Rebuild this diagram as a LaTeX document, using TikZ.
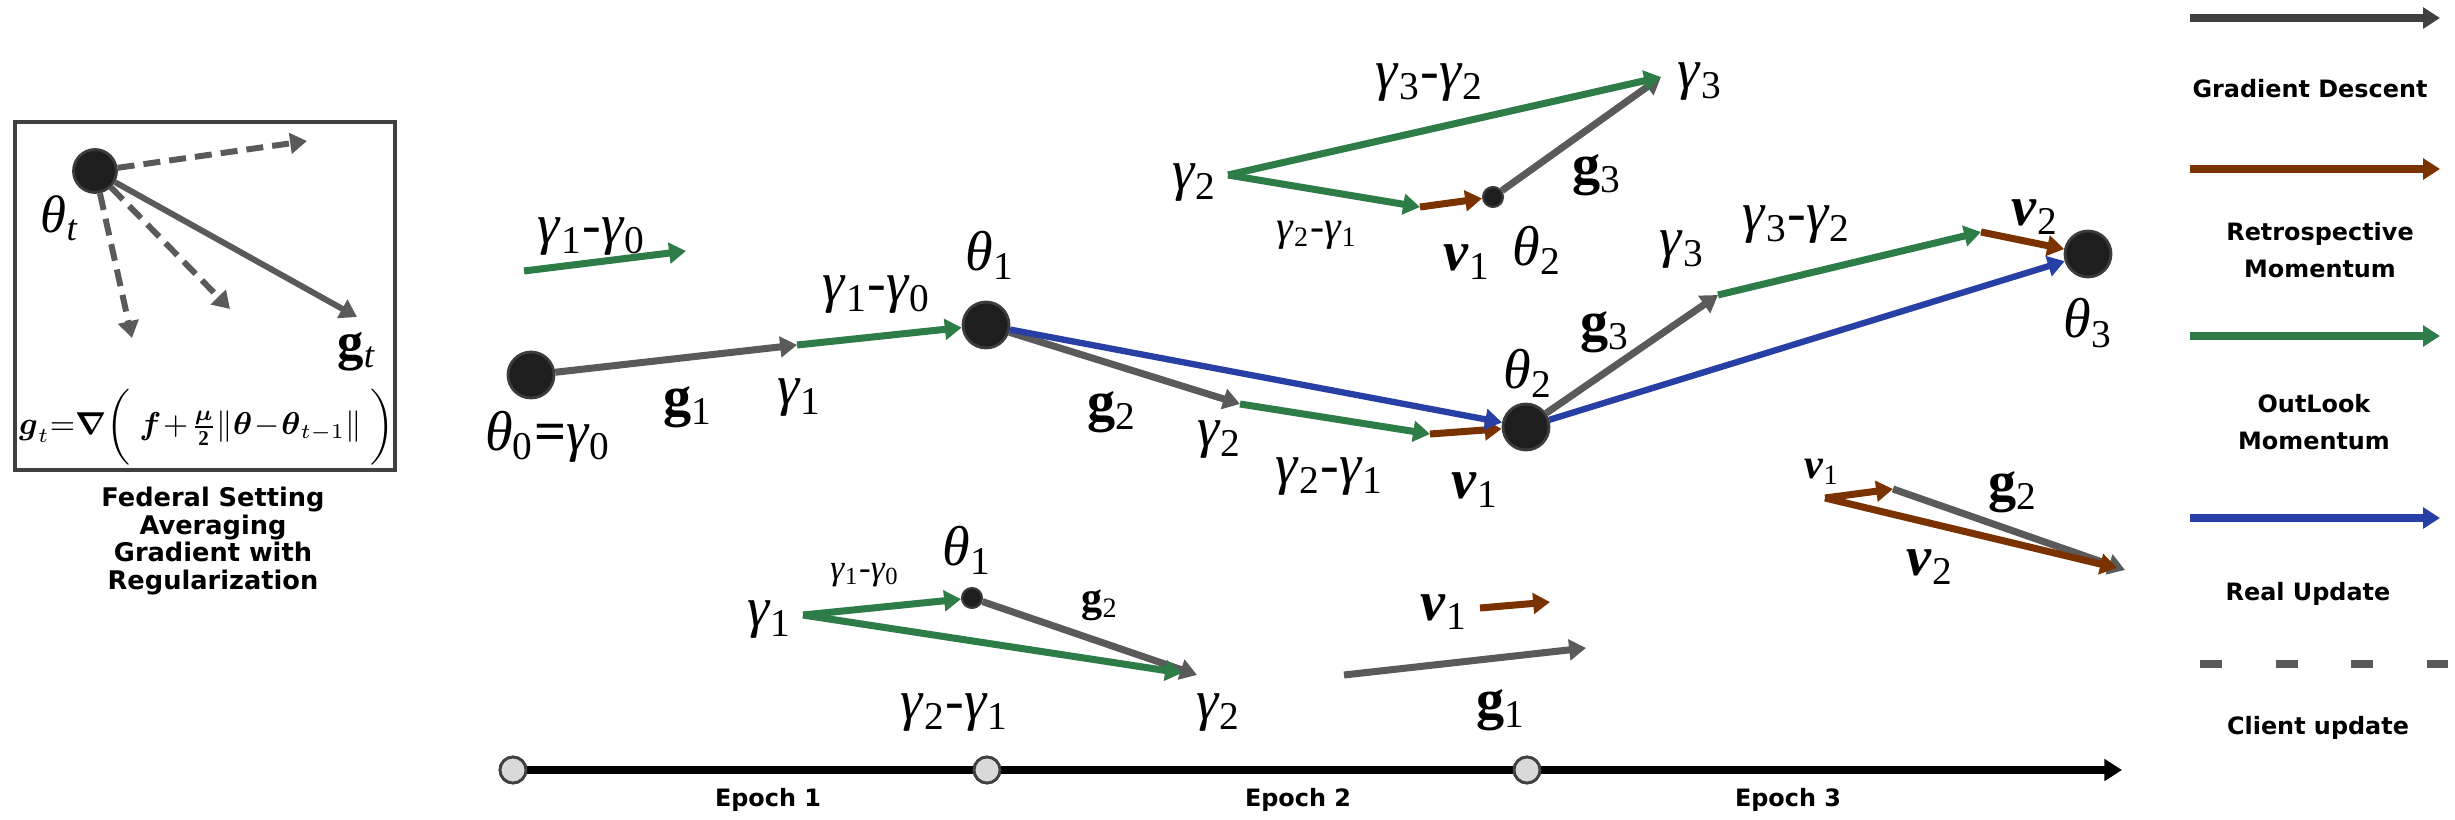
\documentclass[tikz,border=0pt]{standalone}
\usepackage{amsmath}
\usepackage{fontspec}
\setmainfont{Liberation Serif}
\newfontfamily\capfont{DejaVu Sans}
\usetikzlibrary{arrows.meta}

\definecolor{gdgray}{RGB}{90,90,90}
\definecolor{legray}{RGB}{64,64,64}
\definecolor{rmbrown}{RGB}{122,51,0}
\definecolor{omgreen}{RGB}{46,125,72}
\definecolor{rublue}{RGB}{40,64,165}
\definecolor{dotfill}{RGB}{30,30,30}
\definecolor{dotline}{RGB}{60,60,60}
\definecolor{tickfill}{RGB}{217,217,217}

\newcommand{\gam}[1]{\textit{γ}\textsubscript{#1}}
\newcommand{\tht}[1]{\textit{θ}\textsubscript{#1}}
\newcommand{\grd}[1]{\textbf{g}\textsubscript{#1}}
\newcommand{\vel}[1]{\textbf{\textit{v}}\textsubscript{#1}}
\newcommand{\gtrule}{$\boldsymbol{g}_{t}\mathbf{=}\boldsymbol{\nabla}\bigg(\;\boldsymbol{f}\!+\!\frac{\boldsymbol{\mu}}{\mathbf{2}}\Vert\boldsymbol{\theta}\!-\!\boldsymbol{\theta}_{t-1}\Vert\;\bigg)$}

\tikzset{
  vtip/.style={-{Triangle[length=4.8pt,width=5.8pt]}},
  gdarrow/.style={draw=gdgray, line width=2pt, vtip},
  rmarrow/.style={draw=rmbrown, line width=2pt, vtip},
  omarrow/.style={draw=omgreen, line width=2pt, vtip},
  ruarrow/.style={draw=rublue, line width=1.8pt, vtip},
  cuarrow/.style={draw=gdgray, line width=1.7pt, dash pattern=on 1.7mm off 0.9mm, vtip},
  bigdot/.style={circle, fill=dotfill, draw=dotline, line width=0.8pt, minimum size=4.6mm, inner sep=0pt},
  smalldot/.style={circle, fill=dotfill, draw=dotline, line width=0.6pt, minimum size=2mm, inner sep=0pt},
  tickdot/.style={circle, fill=tickfill, draw=legray, line width=0.8pt, minimum size=2.6mm, inner sep=0pt},
  lbl/.style={font=\fontsize{16}{16}\selectfont, inner sep=0pt},
  slbl/.style={font=\fontsize{12}{12}\selectfont, inner sep=0pt},
  legtxt/.style={font=\capfont\bfseries\fontsize{6.8}{10.5}\selectfont, align=center, inner sep=0pt},
  captxt/.style={font=\capfont\bfseries\fontsize{7.3}{7.9}\selectfont, align=center, inner sep=0pt}
}

\begin{document}
\begin{tikzpicture}[x=0.1mm, y=-0.1mm]
\useasboundingbox (0,0) rectangle (2455,819);

% federal setting box
\draw[line width=1.4pt, draw=legray] (15,122) rectangle (395,470);
\node[bigdot, minimum size=4.3mm] (tht) at (95,171) {};
\coordinate (cl1) at (307,141);
\coordinate (cl2) at (132,338);
\coordinate (cl3) at (230,309);
\coordinate (gt) at (357,317);
\draw[cuarrow] (tht) -- (cl1);
\draw[cuarrow] (tht) -- (cl2);
\draw[cuarrow] (tht) -- (cl3);
\draw[gdarrow, line width=1.7pt] (tht) -- (gt);
\node[lbl, font=\fontsize{15}{15}\selectfont] (ltht) at (60,218) {\textit{θ}\textsubscript{\textit{t}}};
\node[lbl, font=\fontsize{15}{15}\selectfont] (lgt) at (357,352) {\textbf{g}\textsubscript{\textit{t}}};
\node[lbl, font=\fontsize{9}{9}\selectfont] (rule) at (207,427) {\gtrule};
\node[captxt] (cap) at (213,541) {Federal Setting\\Averaging\\Gradient with\\Regularization};

% main path
\node[bigdot] (t0) at (531,375) {};
\node[bigdot] (t1) at (986,325) {};
\node[bigdot] (t2) at (1526,427) {};
\node[bigdot] (t3) at (2088,254) {};
\coordinate (g1) at (797,345);
\coordinate (g2) at (1240,404);
\coordinate (m2) at (1430,434);
\coordinate (g3) at (1718,295);
\coordinate (m3) at (1981,232);
\draw[gdarrow] (t0) -- (g1);
\draw[omarrow] (g1) -- (t1);
\draw[gdarrow] (t1) -- (g2);
\draw[omarrow] (g2) -- (m2);
\draw[rmarrow] (m2) -- (t2);
\draw[ruarrow] (t1) -- (t2);
\draw[gdarrow] (t2) -- (g3);
\draw[omarrow] (g3) -- (m3);
\draw[rmarrow] (m3) -- (t3);
\draw[ruarrow] (t2) -- (t3);
\node[lbl] (lt0) at (548,437) {\tht{0}\textbf{=}\gam{0}};
\node[lbl] (lg1) at (688,407) {\grd{1}};
\node[lbl] (lc1) at (800,398) {\gam{1}};
\node[lbl] (lm1) at (877,295) {\gam{1}-\gam{0}};
\node[lbl] (lt1) at (990,255) {\tht{1}};
\node[lbl] (lg2) at (1112,412) {\grd{2}};
\node[lbl] (lc2) at (1220,440) {\gam{2}};
\node[lbl] (lm2) at (1330,477) {\gam{2}-\gam{1}};
\node[lbl] (lv1) at (1475,490) {\vel{1}};
\node[lbl] (lt2) at (1528,373) {\tht{2}};
\node[lbl] (lg3) at (1605,332) {\grd{3}};
\node[lbl] (lc3) at (1682,250) {\gam{3}};
\node[lbl] (lm3) at (1797,225) {\gam{3}-\gam{2}};
\node[lbl] (lv2) at (2035,217) {\vel{2}};
\node[lbl] (lt3) at (2088,323) {\tht{3}};

% loose outlook step
\coordinate (fa) at (524,271);
\coordinate (fb) at (686,251);
\draw[omarrow] (fa) -- (fb);
\node[lbl] (lfm) at (592,237) {\gam{1}-\gam{0}};

% upper triangle
\coordinate (ug2) at (1228,175);
\coordinate (um) at (1420,207);
\node[smalldot] (ut2) at (1493,197) {};
\coordinate (ug3) at (1661,77);
\draw[omarrow] (ug2) -- (um);
\draw[rmarrow] (um) -- (ut2);
\draw[gdarrow] (ut2) -- (ug3);
\draw[omarrow] (ug2) -- (ug3);
\node[lbl] (luc2) at (1195,183) {\gam{2}};
\node[slbl] (lum) at (1317,235) {\gam{2}-\gam{1}};
\node[lbl] (luv) at (1467,262) {\vel{1}};
\node[lbl] (lut) at (1537,250) {\tht{2}};
\node[lbl] (lug) at (1597,175) {\grd{3}};
\node[lbl] (lum3) at (1430,83) {\gam{3}-\gam{2}};
\node[lbl] (luc3) at (1700,82) {\gam{3}};

% lower triangle
\coordinate (dg1) at (803,615);
\node[smalldot] (dt1) at (972,598) {};
\coordinate (dg2) at (1197,675);
\coordinate (dm2) at (1182,673);
\draw[omarrow] (dg1) -- (dt1);
\draw[gdarrow] (dt1) -- (dg2);
\draw[omarrow] (dg1) -- (dm2);
\node[lbl] (ldc1) at (770,620) {\gam{1}};
\node[slbl, font=\fontsize{10}{10}\selectfont] (ldm1) at (865,575) {\gam{1}-\gam{0}};
\node[lbl] (ldt1) at (967,550) {\tht{1}};
\node[slbl] (ldg2) at (1100,605) {\grd{2}};
\node[lbl] (ldm2) at (955,713) {\gam{2}-\gam{1}};
\node[lbl] (ldc2) at (1219,713) {\gam{2}};

% separate steps
\coordinate (sa) at (1344,675);
\coordinate (sb) at (1586,648);
\coordinate (sc) at (1480,608);
\coordinate (sd) at (1550,602);
\draw[gdarrow] (sa) -- (sb);
\draw[rmarrow] (sc) -- (sd);
\node[lbl] (lsg) at (1501,710) {\grd{1}};
\node[lbl] (lsv) at (1444,612) {\vel{1}};

% momentum sum
\coordinate (ra) at (1825,498);
\coordinate (rb) at (1893,489);
\coordinate (rc) at (2125,570);
\coordinate (rd) at (2117,568);
\draw[rmarrow] (ra) -- (rb);
\draw[gdarrow] (rb) -- (rc);
\draw[rmarrow] (ra) -- (rd);
\node[slbl] (lrv1) at (1822,472) {\vel{1}};
\node[lbl] (lrg2) at (2013,492) {\grd{2}};
\node[lbl] (lrv2) at (1930,567) {\vel{2}};

% timeline
\node[tickdot] (e0) at (513,770) {};
\node[tickdot] (e1) at (987,770) {};
\node[tickdot] (e2) at (1527,770) {};
\coordinate (eend) at (2122,770);
\draw[line width=2.3pt, -{Triangle[length=5pt,width=6pt]}] (e0) -- (e1) -- (e2) -- (eend);
\node[tickdot] at (e0) {};
\node[tickdot] at (e1) {};
\node[tickdot] at (e2) {};
\foreach \x/\n in {768/1, 1298/2, 1788/3}
  \node[legtxt] (ep\n) at (\x,800) {Epoch \n};

% legend
\foreach \y/\c/\n in {18/legray/a, 169/rmbrown/b, 336/omgreen/c, 518/rublue/d} {
  \coordinate (lg\n1) at (2190,\y);
  \coordinate (lg\n2) at (2440,\y);
  \draw[line width=2pt, draw=\c, vtip] (lg\n1) -- (lg\n2);
}
\coordinate (lge1) at (2200,664);
\coordinate (lge2) at (2448,664);
\draw[line width=2.3pt, draw=gdgray, dash pattern=on 2.2mm off 5.35mm] (lge1) -- (lge2);
\node[legtxt] (lta) at (2310,89) {Gradient Descent};
\node[legtxt] (ltb) at (2320,250) {Retrospective\\Momentum};
\node[legtxt] (ltc) at (2314,422) {OutLook\\Momentum};
\node[legtxt] (ltd) at (2308,594) {Real Update};
\node[legtxt] (lte) at (2318,728) {Client update};
\end{tikzpicture}
\end{document}
